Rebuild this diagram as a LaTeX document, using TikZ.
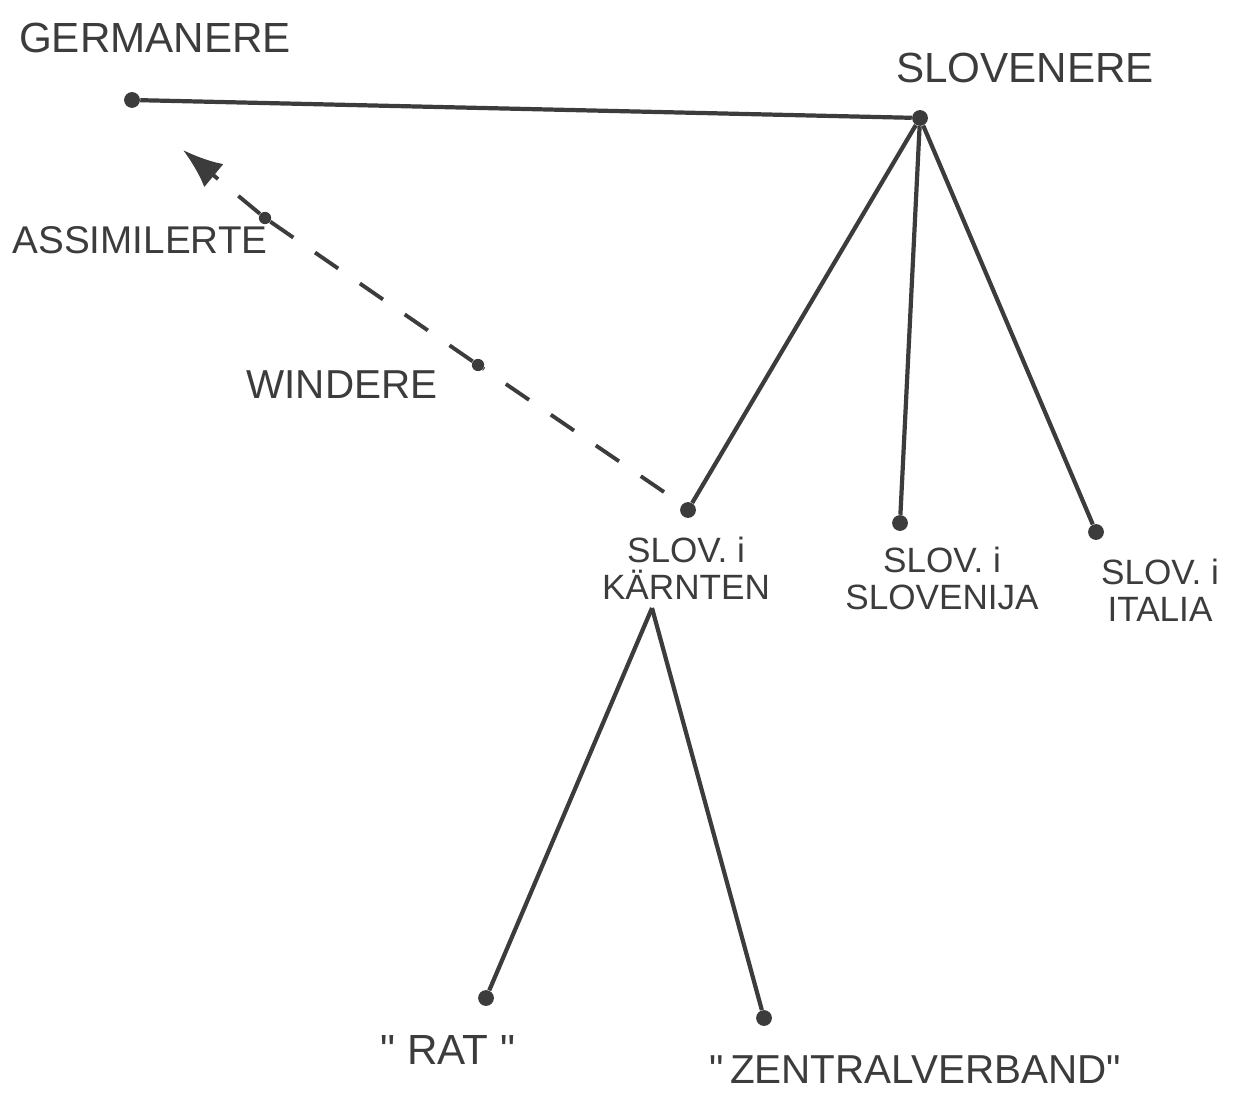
\documentclass[tikz,border=0pt]{standalone}
\usepackage{fontspec}
\setmainfont{Liberation Sans}
\usetikzlibrary{arrows.meta}
\definecolor{ink}{HTML}{3C3C3C}
\tikzset{
  dot/.style={circle, fill=ink, inner sep=0pt, minimum size=9pt},
  bigtxt/.style={text=ink, font=\fontsize{24}{26}\selectfont},
  smalltxt/.style={text=ink, align=center, font=\fontsize{20}{21}\selectfont},
  branch/.style={draw=ink, line width=2.4pt},
  dashline/.style={draw=ink, line width=2.2pt, dash pattern=on 16pt off 15pt},
}
\newcommand{\qq}{\textquotedbl}
\begin{document}
\begin{tikzpicture}[x=0.02cm, y=-0.02cm]
  \useasboundingbox (0,0) rectangle (1239,1104);

  % top level
  \node[dot] (germ) at (132,100) {};
  \node[dot] (slov) at (920,118) {};
  \node[bigtxt] (germlbl) at (155,38) {GERMANERE};
  \node[bigtxt] (slovlbl) at (1025,68) {SLOVENERE};
  \draw[branch] (germ) -- (slov);

  % three groups of slovenes
  \node[dot] (kaer) at (688,510) {};
  \node[dot] (slvn) at (900,523) {};
  \node[dot] (ital) at (1096,532) {};
  \node[smalltxt] (kaerlbl) at (686,568) {SLOV. i\\KÄRNTEN};
  \node[smalltxt] (slvnlbl) at (942,578) {SLOV. i\\SLOVENIJA};
  \node[smalltxt] (itallbl) at (1160,590) {SLOV. i\\ITALIA};
  \draw[branch] (slov) -- (kaer);
  \draw[branch] (slov) -- (slvn);
  \draw[branch] (slov) -- (ital);

  % windere / assimilerte
  \node[dot, minimum size=7pt] (wind) at (478,365) {};
  \node[dot, minimum size=7pt] (assim) at (265,218) {};
  \coordinate (dashstart) at (664,492);
  \coordinate (tip) at (183,150);
  \node[bigtxt, font=\fontsize{23}{25}\selectfont] (windlbl) at (342,385) {WINDERE};
  \node[bigtxt, font=\fontsize{22}{24}\selectfont] (assimlbl) at (140,240) {ASSIMILERTE};
  \draw[dashline] (dashstart) -- (wind);
  \draw[dashline] (wind) -- (assim);
  \draw[dashline, -{Latex[length=0.8cm, width=0.6cm]}] (assim) -- (tip);

  % organisations in Kärnten
  \coordinate (kaerfoot) at (652,608);
  \node[dot] (rat) at (486,998) {};
  \node[dot] (zent) at (764,1018) {};
  \node[bigtxt] (ratlbl) at (448,1050) {\qq\ RAT \qq};
  \node[bigtxt, font=\fontsize{23}{25}\selectfont] (zentlbl) at (915,1070) {\qq\,ZENTRALVERBAND\qq};
  \draw[branch] (kaerfoot) -- (rat);
  \draw[branch] (kaerfoot) -- (zent);
\end{tikzpicture}
\end{document}
